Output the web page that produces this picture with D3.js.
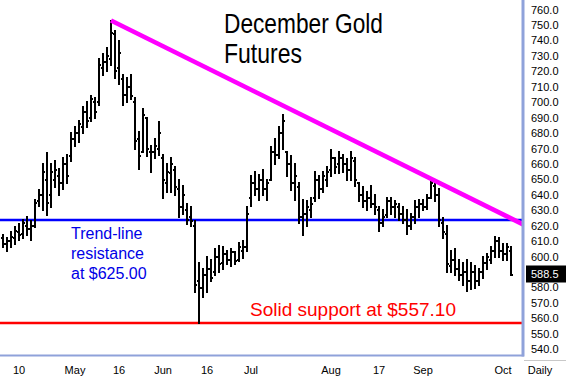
<!DOCTYPE html>
<html>
<head>
<meta charset="utf-8">
<script src="https://cdn.jsdelivr.net/npm/d3@7"></script>
<style>
  body { margin: 0; background: #fff; }
  svg { display: block; }
</style>
</head>
<body>
<script>
// Daily OHLC, December gold futures, 4 Apr 2006 .. 4 Oct 2006
var firstDay = "2006-04-04";
var holidays = ["2006-04-14", "2006-05-29", "2006-07-04", "2006-09-04"];

var opens = [612,608,610,612,616,615,620,618,620,636,640,650,640,650,652,648,660,665,676,680,
  684,694,690,700,700,722,726,728,744,722,715,705,710,700,676,668,690,668,668,670,
  664,648,654,656,644,632,630,626,620,584,580,588,592,590,600,596,602,598,603,598,
  604,606,638,648,644,650,644,650,668,666,680,668,660,648,645,626,628,630,638,650,
  644,650,656,664,660,664,660,656,662,648,640,636,638,634,630,622,627,636,632,632,
  628,624,620,626,632,634,632,638,646,640,622,615,594,598,592,588,590,584,590,584,
  590,596,598,604,610,604,602,604];
var highs = [614,612,616,619,621,624,626,623,637,643,660,667,660,662,657,664,666,680,684,688,
  697,700,704,703,728,731,735,753,746,740,718,716,718,703,681,696,690,672,676,687,
  666,660,664,658,650,646,634,632,623,596,592,600,598,605,607,606,604,605,603,609,
  610,632,652,655,653,656,650,671,676,684,692,668,665,660,648,637,636,638,655,652,
  655,658,669,664,668,666,663,668,664,648,645,642,646,640,632,630,638,638,636,634,
  632,630,628,636,637,637,640,650,648,644,625,620,604,605,598,596,598,596,594,592,
  600,602,606,613,612,608,608,606];
var lows = [606,604,606,608,611,612,614,611,619,633,630,627,632,645,640,644,648,662,672,674,
  680,684,688,690,698,718,720,724,716,712,698,700,702,670,657,668,665,655,664,666,
  638,642,642,640,626,628,621,620,577,557.1,574,577,584,588,590,592,595,594,595,597,
  599,604,633,640,637,640,637,650,660,664,670,652,643,637,622,614,620,626,636,638,
  642,646,652,654,654,655,650,650,646,636,632,630,632,628,617,620,626,628,626,624,
  622,615,618,622,626,630,631,638,636,620,612,590,590,588,585,582,578,579,580,582,
  586,592,596,600,600,598,598,588];
var closes = [608,610,613,617,614,622,618,620,635,640,655,635,655,656,648,660,652,676,680,686,
  694,688,702,694,724,726,730,745,720,732,705,710,704,675,665,692,670,668,672,680,
  650,655,660,645,632,640,624,623,582,580,588,592,586,600,595,602,598,603,597,606,
  606,628,648,644,650,644,648,668,666,680,688,660,648,652,626,628,632,634,650,644,
  652,655,664,658,664,660,656,664,650,640,636,638,634,632,622,626,636,632,634,628,
  624,620,626,632,634,632,638,648,640,624,616,595,598,592,588,590,584,590,584,590,
  596,600,604,610,604,602,606,588.5];

// Axis labels
var priceTicks = d3.range(540, 761, 10);
var dateTicks = ["2006-04-10", "2006-05-01", "2006-05-16", "2006-06-01", "2006-06-16",
  "2006-07-03", "2006-08-01", "2006-08-17", "2006-09-01", "2006-10-02"];
var dateLabels = ["10", "May", "16", "Jun", "16", "Jul", "Aug", "17", "Sep", "Oct"];

// Annotation levels
var resistance = 624;
var support = 557.1;
var trendStart = { day: "2006-05-12", value: 753 };
var trendEnd = { slot: 130, value: 621 };
var lastPrice = 588.5;

var svgWidth = 566, svgHeight = 380;
var plotRight = 523, plotBottom = 355.5;

// trading days (weekdays without the exchange holidays)
var days = [];
var cur = d3.utcParse("%Y-%m-%d")(firstDay);
var fmt = d3.utcFormat("%Y-%m-%d");
while (days.length < closes.length) {
  var wd = cur.getUTCDay();
  if (wd !== 0 && wd !== 6 && holidays.indexOf(fmt(cur)) === -1) days.push(fmt(cur));
  cur = d3.utcDay.offset(cur, 1);
}

var bars = days.map(function(d, i) {
  return { day: d, i: i, o: opens[i], h: highs[i], l: lows[i], c: closes[i] };
});

var x = d3.scaleLinear().domain([0, 130]).range([3, 523]);
var y = d3.scaleLinear().domain([540, 760]).range([349.4, 9.7]);

var svg = d3.select("body").append("svg")
  .attr("width", svgWidth)
  .attr("height", svgHeight)
  .style("font-family", "'Liberation Sans', Arial, sans-serif");

svg.append("rect").attr("width", svgWidth).attr("height", svgHeight).attr("fill", "#fff");

// Plot clip
svg.append("clipPath").attr("id", "plot")
  .append("rect").attr("x", 0).attr("y", 0).attr("width", plotRight).attr("height", plotBottom);

var plot = svg.append("g").attr("clip-path", "url(#plot)");

// support / resistance lines
plot.append("line")
  .attr("x1", 0).attr("x2", plotRight)
  .attr("y1", Math.round(y(resistance))).attr("y2", Math.round(y(resistance)))
  .attr("stroke", "#0000ff").attr("stroke-width", 2.4);

plot.append("line")
  .attr("x1", 0).attr("x2", plotRight)
  .attr("y1", y(support)).attr("y2", y(support))
  .attr("stroke", "#ff0000").attr("stroke-width", 2.4);

// OHLC bars
var bar = plot.selectAll(".bar")
  .data(bars)
  .enter().append("g")
  .attr("class", "bar")
  .attr("stroke", "#000")
  .attr("stroke-width", 2)
  .attr("shape-rendering", "crispEdges");

bar.append("line")
  .attr("x1", function(d) { return x(d.i); })
  .attr("x2", function(d) { return x(d.i); })
  .attr("y1", function(d) { return Math.round(y(d.h)) - 1; })
  .attr("y2", function(d) { return Math.round(y(d.l)) + 1; });

bar.append("line")
  .attr("x1", function(d) { return x(d.i) - 2; })
  .attr("x2", function(d) { return x(d.i); })
  .attr("y1", function(d) { return Math.round(y(d.o)); })
  .attr("y2", function(d) { return Math.round(y(d.o)); });

bar.append("line")
  .attr("x1", function(d) { return x(d.i); })
  .attr("x2", function(d) { return x(d.i) + 2; })
  .attr("y1", function(d) { return Math.round(y(d.c)); })
  .attr("y2", function(d) { return Math.round(y(d.c)); });

// descending trend line from the May high
plot.append("line")
  .attr("x1", x(days.indexOf(trendStart.day))).attr("y1", y(trendStart.value))
  .attr("x2", x(trendEnd.slot)).attr("y2", y(trendEnd.value))
  .attr("stroke", "#ff00ff").attr("stroke-width", 4.6);

// frame
svg.append("line")
  .attr("x1", 0).attr("x2", plotRight + 1)
  .attr("y1", plotBottom).attr("y2", plotBottom)
  .attr("stroke", "#8fa2da").attr("stroke-width", 2);
svg.append("line")
  .attr("x1", plotRight).attr("x2", plotRight)
  .attr("y1", 0).attr("y2", plotBottom + 1)
  .attr("stroke", "#8fa2da").attr("stroke-width", 3);
svg.append("line")
  .attr("x1", plotRight + 1).attr("x2", svgWidth)
  .attr("y1", 360.5).attr("y2", 360.5)
  .attr("stroke", "#c8c8c8").attr("stroke-width", 1);

// price axis (the label under the last-price box is hidden)
svg.append("g").selectAll("text")
  .data(priceTicks.filter(function(d) { return Math.abs(y(d) - y(lastPrice)) > 10; }))
  .enter().append("text")
  .attr("x", 531)
  .attr("y", function(d) { return y(d); })
  .attr("dy", "0.35em")
  .attr("font-size", 11)
  .attr("fill", "#000")
  .text(function(d) { return d.toFixed(1); });

// last price box
var lp = svg.append("g").attr("transform", "translate(0," + Math.round(y(lastPrice) - 1) + ")");
lp.append("rect").attr("x", 526).attr("y", -8.5).attr("width", 40).attr("height", 17).attr("fill", "#000");
lp.append("text").attr("x", 531).attr("dy", "0.35em").attr("font-size", 11)
  .attr("fill", "#fff").text(lastPrice.toFixed(1));

// date axis
svg.append("g").selectAll("text")
  .data(dateTicks)
  .enter().append("text")
  .attr("x", function(d) { return x(days.indexOf(d)); })
  .attr("y", 374)
  .attr("text-anchor", "middle")
  .attr("font-size", 11)
  .text(function(d, i) { return dateLabels[i]; });

svg.append("text")
  .attr("x", 540).attr("y", 374)
  .attr("text-anchor", "middle")
  .attr("font-size", 11)
  .text("Daily");

// title
svg.append("text")
  .attr("x", 224).attr("y", 33)
  .attr("font-size", 28)
  .attr("textLength", 159).attr("lengthAdjust", "spacingAndGlyphs")
  .text("December Gold");
svg.append("text")
  .attr("x", 224).attr("y", 63)
  .attr("font-size", 28)
  .attr("textLength", 78).attr("lengthAdjust", "spacingAndGlyphs")
  .text("Futures");

// annotations
var note = svg.append("text")
  .attr("x", 71).attr("y", 239)
  .attr("font-size", 16)
  .attr("fill", "#0000e6");
["Trend-line", "resistance", "at $625.00"].forEach(function(t, i) {
  note.append("tspan").attr("x", 71).attr("dy", i === 0 ? 0 : 20).text(t);
});

svg.append("text")
  .attr("x", 250).attr("y", 316)
  .attr("font-size", 19)
  .attr("fill", "#ff0000")
  .text("Solid support at $557.10");
</script>
</body>
</html>
